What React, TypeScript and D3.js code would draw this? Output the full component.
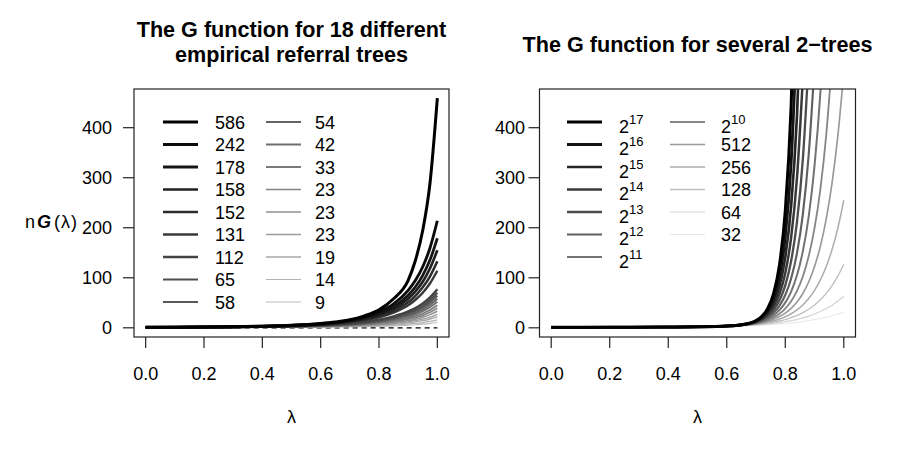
import React, { useEffect, useRef } from "react";
import * as d3 from "d3";

// lambda grid of the readings, left panel
const LAMBDA_L = [0, 0.1, 0.2, 0.3, 0.4, 0.5, 0.6, 0.65, 0.7, 0.75, 0.8, 0.85, 0.9, 0.925, 0.95, 0.975, 1];

// tree sizes (legend) and nG(lambda)
const TREES_L = ["586", "242", "178", "158", "152", "131", "112", "65", "58", "54", "42", "33", "23", "23", "23", "19", "14", "9"];
const G_L = [
  [1, 1.3, 1.7, 2.3, 3.3, 5, 8.5, 11.5, 16, 24, 36, 58, 95, 135, 195, 290, 459],
  [1, 1.25, 1.6, 2.2, 3.2, 4.8, 8, 11, 15.5, 22, 32, 48, 75, 95, 122, 160, 214],
  [1, 1.2, 1.55, 2.1, 3, 4.5, 7.4, 10, 14, 19.5, 28, 42, 65, 82, 105, 136, 179],
  [1, 1.2, 1.5, 2.05, 2.9, 4.3, 7, 9.4, 13, 18, 25.5, 38, 58, 73, 92, 119, 155],
  [1, 1.2, 1.5, 2, 2.8, 4.1, 6.6, 8.8, 12, 16.5, 23, 34, 51, 64, 81, 103, 133],
  [1, 1.2, 1.45, 1.95, 2.7, 3.9, 6.2, 8.2, 11, 15, 21, 30.5, 45, 56, 70, 89, 114],
  [1, 1.04, 1.15, 1.46, 2.1, 3.1, 5.0, 6.5, 8.6, 11.6, 16.2, 23.0, 32.9, 39.8, 48.9, 61.0, 77],
  [1, 1.03, 1.14, 1.41, 2.0, 2.9, 4.6, 6.0, 7.9, 10.7, 14.8, 21.0, 30.0, 36.2, 44.5, 55.5, 70],
  [1, 1.03, 1.13, 1.38, 1.9, 2.7, 4.3, 5.5, 7.3, 9.8, 13.6, 19.3, 27.5, 33.1, 40.7, 50.8, 64],
  [1, 1.03, 1.11, 1.34, 1.8, 2.5, 4.0, 5.1, 6.7, 9.0, 12.4, 17.5, 24.9, 30.1, 36.9, 46.0, 58],
  [1, 1.03, 1.1, 1.31, 1.7, 2.4, 3.7, 4.7, 6.1, 8.1, 11.2, 15.8, 22.4, 27.0, 33.1, 41.3, 52],
  [1, 1.02, 1.09, 1.26, 1.6, 2.2, 3.3, 4.2, 5.4, 7.2, 9.8, 13.8, 19.5, 23.4, 28.7, 35.8, 45],
  [1, 1.02, 1.08, 1.23, 1.5, 2.0, 3.0, 3.7, 4.8, 6.3, 8.6, 12.0, 17.0, 20.4, 24.9, 31.0, 39],
  [1, 1.02, 1.06, 1.19, 1.45, 1.9, 2.7, 3.3, 4.2, 5.5, 7.4, 10.3, 14.4, 17.3, 21.2, 26.3, 33],
  [1, 1.01, 1.05, 1.16, 1.36, 1.7, 2.4, 2.9, 3.6, 4.6, 6.2, 8.5, 11.9, 14.3, 17.4, 21.5, 27],
  [1, 1.01, 1.04, 1.13, 1.29, 1.57, 2.1, 2.5, 3.1, 3.9, 5.2, 7.1, 9.8, 11.7, 14.2, 17.6, 22],
  [1, 1.01, 1.03, 1.09, 1.21, 1.4, 1.8, 2.1, 2.5, 3.1, 4.0, 5.4, 7.3, 8.7, 10.5, 12.9, 16],
  [1, 1.01, 1.02, 1.06, 1.14, 1.27, 1.5, 1.7, 2.0, 2.4, 3.0, 3.9, 5.2, 6.1, 7.3, 8.9, 11],
];

// lambda grid of the readings, right panel (curves run off the top, so they stop early)
const LAMBDA_R = [0, 0.1, 0.2, 0.3, 0.4, 0.5, 0.6, 0.65, 0.7, 0.72, 0.74, 0.76, 0.78, 0.8, 0.82, 0.84, 0.86, 0.88, 0.9, 0.92, 0.94, 0.96, 0.98, 1];

const TREES_R = ["2^17", "2^16", "2^15", "2^14", "2^13", "2^12", "2^11", "2^10", "512", "256", "128", "64", "32"];
const G_R = [
  [1, 1.02, 1.09, 1.22, 1.47, 2, 3.56, 6.08, 14.53, 23.06, 38.78, 68.43, 125.0, 233.8, 443.2, 846.5],
  [1, 1.02, 1.09, 1.22, 1.47, 2, 3.55, 6.01, 13.8, 21.27, 34.5, 58.38, 101.9, 181.9, 328.9, 599.2],
  [1, 1.02, 1.09, 1.22, 1.47, 2, 3.54, 5.93, 13.06, 19.55, 30.59, 49.66, 82.93, 141.3, 243.8, 423.9, 739.2],
  [1, 1.02, 1.09, 1.22, 1.47, 2, 3.53, 5.84, 12.3, 17.9, 27.02, 42.13, 67.34, 109.6, 180.5, 299.6, 499.0],
  [1, 1.02, 1.09, 1.22, 1.47, 2, 3.52, 5.73, 11.55, 16.3, 23.76, 35.6, 54.52, 84.86, 133.5, 211.6, 336.6, 535.7],
  [1, 1.02, 1.09, 1.22, 1.47, 2, 3.5, 5.59, 10.76, 14.76, 20.78, 29.95, 43.98, 65.5, 98.55, 149.2, 226.8, 345.5, 525.2],
  [1, 1.02, 1.09, 1.22, 1.47, 2, 3.47, 5.44, 9.96, 13.26, 18.06, 25.06, 35.32, 50.4, 72.54, 105.0, 152.7, 222.3, 323.7, 470.6, 683.3],
  [1, 1.02, 1.09, 1.22, 1.47, 2, 3.44, 5.25, 9.15, 11.83, 15.58, 20.83, 28.21, 38.59, 53.19, 73.74, 102.6, 142.9, 199.2, 277.4, 385.9, 535.7],
  [1, 1.02, 1.09, 1.22, 1.47, 2, 3.39, 5.03, 8.3, 10.45, 13.31, 17.16, 22.36, 29.37, 38.81, 51.53, 68.66, 91.64, 122.4, 163.3, 217.8, 290.1, 385.5, 511],
  [1, 1.02, 1.09, 1.22, 1.47, 1.99, 3.31, 4.77, 7.46, 9.11, 11.24, 13.99, 17.55, 22.16, 28.12, 35.82, 45.74, 58.53, 74.89, 95.89, 122.7, 156.8, 200.1, 255],
  [1, 1.02, 1.09, 1.22, 1.47, 1.98, 3.21, 4.47, 6.59, 7.82, 9.35, 11.25, 13.6, 16.53, 20.17, 24.67, 30.24, 37.14, 45.61, 56.03, 68.86, 84.53, 103.7, 127],
  [1, 1.02, 1.09, 1.22, 1.47, 1.97, 3.07, 4.1, 5.71, 6.58, 7.62, 8.87, 10.36, 12.14, 14.25, 16.78, 19.77, 23.33, 27.54, 32.52, 38.4, 45.31, 53.45, 63],
  [1, 1.02, 1.09, 1.22, 1.47, 1.94, 2.88, 3.67, 4.8, 5.38, 6.05, 6.81, 7.69, 8.7, 9.85, 11.18, 12.69, 14.42, 16.38, 18.62, 21.17, 24.05, 27.31, 31],
];

const X_TICKS = [0, 0.2, 0.4, 0.6, 0.8, 1.0];
const Y_TICKS = [0, 100, 200, 300, 400];
const Y_MAX = 459; // ylim shared by both panels

const FONT = "'Liberation Sans', Arial, Helvetica, sans-serif";

type Panel = {
  id: string;
  left: number;
  right: number;
  title: string[];
  titleY: number[];
  lambda: number[];
  series: number[][];
  labels: string[];
  rows: number; // legend rows in first column
  leg: { x1: number[]; lab: number[] };
  lwd: (i: number) => number;
  grey: (i: number) => number;
  yLabRight: number;
  zeroLine: boolean;
};

const TOP = 89, BOTTOM = 337;

function drawPanel(svg: d3.Selection<SVGSVGElement, unknown, null, undefined>, p: Panel) {
  // R style: 4% padding around the data range
  const x = d3.scaleLinear().domain([-0.04, 1.04]).range([p.left, p.right]);
  const pad = Y_MAX * 0.04;
  const y = d3.scaleLinear().domain([-pad, Y_MAX + pad]).range([BOTTOM, TOP]);
  const colour = (i: number) => d3.interpolateRgb("#000", "#fff")(p.grey(i));

  const g = svg.append("g");

  g.append("clipPath").attr("id", "clip-" + p.id)
    .append("rect")
    .attr("x", p.left).attr("y", TOP)
    .attr("width", p.right - p.left).attr("height", BOTTOM - TOP);

  const line = d3.line<number>()
    .x((_, i) => x(p.lambda[i]))
    .y(d => y(d))
    .curve(d3.curveMonotoneX);

  const curves = g.append("g").attr("clip-path", `url(#clip-${p.id})`);
  if (p.zeroLine) {
    curves.append("line")
      .attr("x1", x(0)).attr("x2", x(1))
      .attr("y1", y(0)).attr("y2", y(0))
      .attr("stroke", "#000").attr("stroke-width", 1.2)
      .attr("stroke-dasharray", "5,4");
  }
  // smallest trees first, so the big dark ones end up on top
  for (let i = p.series.length - 1; i >= 0; i--) {
    curves.append("path")
      .attr("d", line(p.series[i]))
      .attr("fill", "none")
      .attr("stroke", colour(i))
      .attr("stroke-width", p.lwd(i));
  }

  // box
  g.append("rect")
    .attr("x", p.left).attr("y", TOP)
    .attr("width", p.right - p.left).attr("height", BOTTOM - TOP)
    .attr("fill", "none").attr("stroke", "#222").attr("stroke-width", 1.2);

  // x axis
  X_TICKS.forEach(t => {
    g.append("line")
      .attr("x1", x(t)).attr("x2", x(t))
      .attr("y1", BOTTOM).attr("y2", BOTTOM + 11)
      .attr("stroke", "#222").attr("stroke-width", 1.2);
    g.append("text")
      .attr("x", x(t)).attr("y", 380)
      .attr("text-anchor", "middle")
      .attr("font-family", FONT).attr("font-size", 18)
      .text(d3.format(".1f")(t));
  });
  g.append("text")
    .attr("x", (p.left + p.right) / 2).attr("y", 423)
    .attr("text-anchor", "middle")
    .attr("font-family", FONT).attr("font-size", 18)
    .text("λ");

  // y axis
  Y_TICKS.forEach(t => {
    g.append("line")
      .attr("x1", p.left - 11).attr("x2", p.left)
      .attr("y1", y(t)).attr("y2", y(t))
      .attr("stroke", "#222").attr("stroke-width", 1.2);
    g.append("text")
      .attr("x", p.yLabRight).attr("y", y(t) + 6.5)
      .attr("text-anchor", "end")
      .attr("font-family", FONT).attr("font-size", 18)
      .text(t);
  });

  // title
  p.title.forEach((t, i) => {
    g.append("text")
      .attr("x", (p.left + p.right) / 2).attr("y", p.titleY[i])
      .attr("text-anchor", "middle")
      .attr("font-family", FONT).attr("font-size", 21.6).attr("font-weight", "bold")
      .text(t);
  });

  // legend, two columns
  p.labels.forEach((lab, i) => {
    const col = i < p.rows ? 0 : 1;
    const row = col === 0 ? i : i - p.rows;
    const ly = 122 + row * 22.5;
    g.append("line")
      .attr("x1", p.leg.x1[col]).attr("x2", p.leg.x1[col] + 35)
      .attr("y1", ly).attr("y2", ly)
      .attr("stroke", colour(i))
      .attr("stroke-width", p.lwd(i));
    const txt = g.append("text")
      .attr("x", p.leg.lab[col])
      .attr("font-family", FONT).attr("font-size", 18);
    if (lab.includes("^")) {
      const [b, e] = lab.split("^");
      txt.attr("y", ly + 10.5);
      txt.append("tspan").text(b);
      txt.append("tspan").attr("font-size", 13).attr("dy", -9).text(e);
    } else {
      txt.attr("y", ly + 6.5).text(lab);
    }
  });
}

export default function App() {
  const ref = useRef<SVGSVGElement>(null);

  useEffect(() => {
    const svg = d3.select(ref.current!);
    svg.selectAll("*").remove();

    drawPanel(svg, {
      id: "l",
      left: 134, right: 449,
      title: ["The G function for 18 different", "empirical referral trees"],
      titleY: [37, 62],
      lambda: LAMBDA_L,
      series: G_L,
      labels: TREES_L,
      rows: 9,
      leg: { x1: [163, 266], lab: [215, 315] },
      lwd: i => 3 - 1.9 * i / (G_L.length - 1),
      grey: i => 0.74 * i / (G_L.length - 1),
      yLabRight: 112,
      zeroLine: true,
    });

    drawPanel(svg, {
      id: "r",
      left: 539.5, right: 855.5,
      title: ["The G function for several 2\u2212trees"],
      titleY: [52],
      lambda: LAMBDA_R,
      series: G_R,
      labels: TREES_R,
      rows: 7,
      leg: { x1: [567, 670], lab: [619, 721] },
      lwd: i => 3 - 2 * i / (G_R.length - 1),
      grey: i => 0.9 * i / (G_R.length - 1),
      yLabRight: 525,
      zeroLine: false,
    });

    // y label of the left panel: n G(lambda), plotmath-like spacing
    const yl = svg.append("text")
      .attr("x", 25).attr("y", 228)
      .attr("font-family", FONT).attr("font-size", 18);
    yl.append("tspan").text("n");
    yl.append("tspan").attr("dx", 2).attr("font-weight", "bold").attr("font-style", "italic").text("G");
    yl.append("tspan").attr("dx", 3).text("(");
    yl.append("tspan").attr("dx", 1).text("λ");
    yl.append("tspan").attr("dx", 1).text(")");
  }, []);

  return (
    <svg
      ref={ref}
      width={900}
      height={450}
      style={{ position: "absolute", left: 0, top: 0, background: "#fff" }}
    />
  );
}
